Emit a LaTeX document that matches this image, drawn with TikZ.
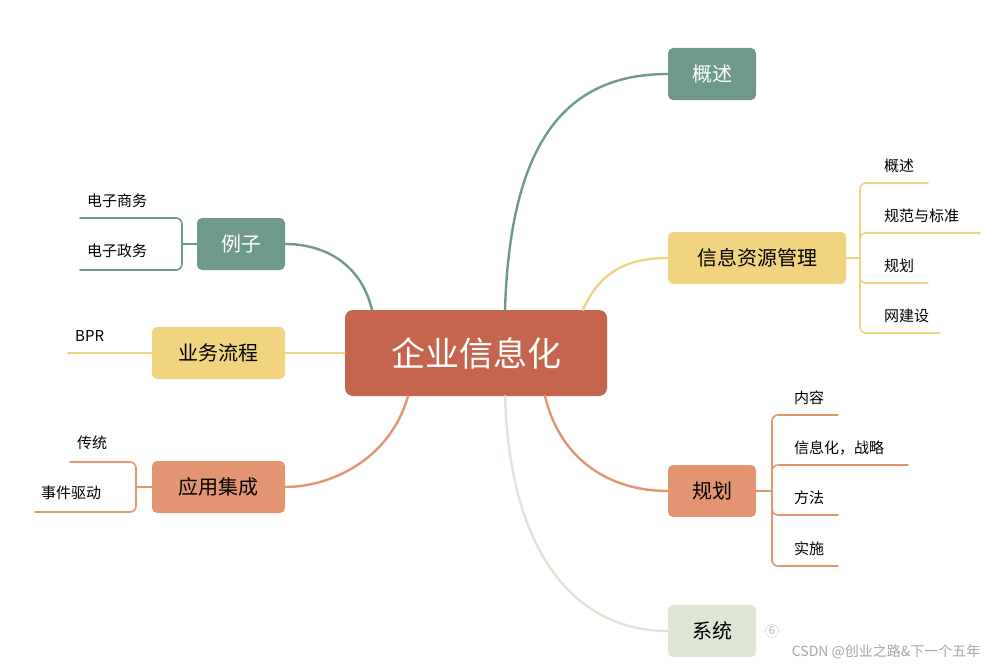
\documentclass[tikz,border=0pt]{standalone}
\usepackage{fontspec}
\setmainfont{Noto Sans CJK SC}
\usetikzlibrary{calc}
\definecolor{teal}{HTML}{6F9A8B}
\definecolor{sand}{HTML}{F0D480}
\definecolor{peach}{HTML}{E39470}
\definecolor{brick}{HTML}{C6654E}
\definecolor{sage}{HTML}{DDE6D5}
\begin{document}
\begin{tikzpicture}[x=1pt,y=-1pt,line cap=round,line join=round,
  topic/.style={rounded corners=5pt,minimum height=52pt,inner sep=0pt,font=\fontsize{20}{22}\selectfont},
  leaf/.style={anchor=south west,inner sep=0pt,font=\fontsize{15}{17}\selectfont},
  link/.style={line width=2.4pt},
  twig/.style={line width=1.6pt,rounded corners=6pt}]
\useasboundingbox (0,0) rectangle (988,669);
% centre
\node[fill=brick,text=white,rounded corners=8pt,minimum width=262pt,minimum height=86pt,font=\fontsize{34}{36}\selectfont] (root) at (476,353) {企业信息化};
% right topics
\node[topic,fill=teal,text=white,minimum width=88pt] (gs) at (712,74) {概述};
\node[topic,fill=sand,minimum width=178pt] (zy) at (757,258) {信息资源管理};
\node[topic,fill=peach,minimum width=88pt] (gh) at (712,491) {规划};
\node[topic,fill=sage,minimum width=88pt] (xt) at (712,631) {系统};
% left topics
\node[topic,fill=teal,text=white,minimum width=88pt] (lz) at (241,244) {例子};
\node[topic,fill=sand,minimum width=133pt] (yw) at (218.5,353) {业务流程};
\node[topic,fill=peach,minimum width=133pt] (yy) at (218.5,487) {应用集成};
% links
\draw[link,teal] (505,310) .. controls (510,150) and (560,74) .. (gs.west);
\draw[link,sand] (583,310) .. controls (600,270) and (630,258) .. (zy.west);
\draw[link,peach] (545,396) .. controls (560,460) and (610,491) .. (gh.west);
\draw[link,sage] (505,396) .. controls (510,560) and (580,631) .. (xt.west);
\draw[link,teal] (372,310) .. controls (360,260) and (320,244) .. (lz.east);
\draw[link,sand] (root.west) -- (yw.east);
\draw[link,peach] (408,396) .. controls (390,460) and (330,487) .. (yy.east);
% 信息资源管理 children
\draw[twig,sand] (zy.east) -- (860,258);
\draw[twig,sand] (928,183) -- (860,183) -- (860,333) -- (940,333);
\draw[twig,sand] (980,233) -- (860,233) -- (860,283) -- (928,283);
\node[leaf] at (884,173) {概述};
\node[leaf] at (884,223) {规范与标准};
\node[leaf] at (884,273) {规划};
\node[leaf] at (884,323) {网建设};
% 规划 children
\draw[twig,peach] (gh.west) ++(88,0) -- (772,491);
\draw[twig,peach] (838,415) -- (772,415) -- (772,566) -- (838,566);
\draw[twig,peach] (908,465) -- (772,465) -- (772,515) -- (838,515);
\node[leaf] at (794,405) {内容};
\node[leaf] at (794,455) {信息化，战略};
\node[leaf] at (794,505) {方法};
\node[leaf] at (794,556) {实施};
% 例子 children
\draw[twig,teal] (80,218) -- (182,218) -- (182,270) -- (80,270);
\draw[twig,teal] (182,244) -- (lz.west);
\node[leaf] at (87,208) {电子商务};
\node[leaf] at (87,258) {电子政务};
% 业务流程 child
\draw[twig,sand] (68,353) -- (yw.west);
\node[leaf] at (75,342) {BPR};
% 应用集成 children
\draw[twig,peach] (70,462) -- (136,462) -- (136,512) -- (35,512);
\draw[twig,peach] (136,487) -- (yy.west);
\node[leaf] at (77,450) {传统};
\node[leaf] at (41,500) {事件驱动};
% watermark
\node[draw=gray!40,circle,inner sep=1pt,text=gray!60,font=\fontsize{11}{12}\selectfont] (wm) at (772,631) {6};
\node[anchor=east,text=gray!70,font=\fontsize{14}{16}\selectfont] (mark) at (984,652) {CSDN @创业之路\&下一个五年};
\end{tikzpicture}
\end{document}
